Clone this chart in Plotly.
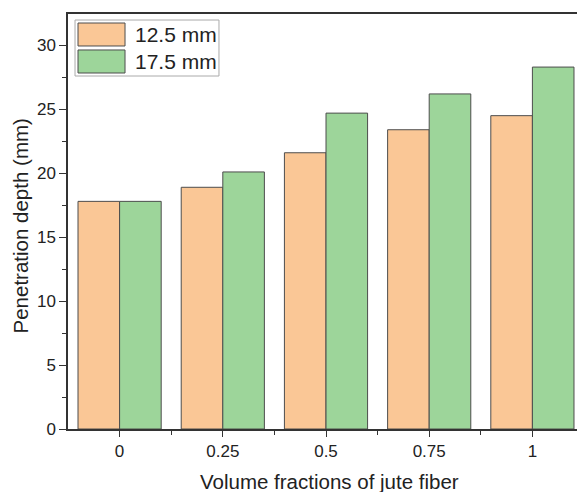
import plotly.graph_objects as go

categories = ["0", "0.25", "0.5", "0.75", "1"]
series_names = ["12.5 mm", "17.5 mm"]
depth_12_5 = [17.8, 18.9, 21.6, 23.4, 24.5]
depth_17_5 = [17.8, 20.1, 24.7, 26.2, 28.3]
x_title = "Volume fractions of jute fiber"
y_title = "Penetration depth (mm)"

colors = ["#FAC796", "#9DD59A"]
outline = "#4d4d4d"
x_pos = list(range(len(categories)))

fig = go.Figure()
for name, vals, col in zip(series_names, [depth_12_5, depth_17_5], colors):
    fig.add_trace(go.Bar(
        x=x_pos, y=vals, name=name,
        marker=dict(color=col, line=dict(color=outline, width=1)),
        showlegend=False,
    ))

font_family = "Liberation Sans, Arial, sans-serif"

# page body has an 8px default margin; size/margins compensate for it
fig.update_layout(
    width=577, height=484,
    margin=dict(l=60, r=1, t=6, b=63, pad=0, autoexpand=False),
    paper_bgcolor="white", plot_bgcolor="white",
    barmode="group", bargap=0.194, bargroupgap=0,
    font=dict(family=font_family, color="#222222"),
)

fig.update_xaxes(
    range=[-0.5, 4.5], automargin=False,
    tickmode="array", tickvals=x_pos, ticktext=categories,
    ticks="outside", ticklen=6, tickwidth=1.3, tickcolor="#333333",
    minor=dict(tickmode="array", tickvals=[0.5, 1.5, 2.5, 3.5],
               ticks="outside", ticklen=4, tickwidth=1.3, tickcolor="#333333"),
    showline=True, linecolor="#333333", linewidth=1.5, mirror=True,
    showgrid=False, zeroline=False,
    tickfont=dict(size=17, family=font_family, color="#222222"),
)

fig.update_yaxes(
    range=[0, 32.45], automargin=False,
    tickmode="linear", tick0=0, dtick=5,
    ticks="outside", ticklen=7, tickwidth=1.3, tickcolor="#333333",
    minor=dict(tickmode="linear", tick0=0, dtick=2.5,
               ticks="outside", ticklen=4, tickwidth=1.3, tickcolor="#333333"),
    showline=True, linecolor="#333333", linewidth=1.5, mirror=True,
    showgrid=False, zeroline=False,
    tickfont=dict(size=17, family=font_family, color="#222222"),
)

# Axis titles as annotations for precise placement
fig.add_annotation(xref="paper", yref="paper", x=0.506, y=-0.1277,
                   text=x_title, showarrow=False, xanchor="center", yanchor="middle",
                   font=dict(size=20.5, family=font_family, color="#222222"))
fig.add_annotation(xref="paper", yref="paper", x=-0.093, y=0.488,
                   text=y_title, showarrow=False, xanchor="center", yanchor="middle",
                   textangle=-90,
                   font=dict(size=20.5, family=font_family, color="#222222"))

# Custom legend with large swatches (Origin style)
fig.add_shape(type="rect", xref="paper", yref="paper",
              x0=0.0136, x1=0.2926, y0=0.8506, y1=0.9855,
              line=dict(color="#aaaaaa", width=1), fillcolor="white")
sw_y = [(0.9229, 0.9783), (0.8578, 0.9133)]
for name, col, (y0, y1) in zip(series_names, colors, sw_y):
    fig.add_shape(type="rect", xref="paper", yref="paper",
                  x0=0.0194, x1=0.1105, y0=y0, y1=y1,
                  line=dict(color=outline, width=1), fillcolor=col)
    fig.add_annotation(xref="paper", yref="paper", x=0.126, y=(y0 + y1) / 2,
                       text=name, showarrow=False, xanchor="left", yanchor="middle",
                       font=dict(size=21, family=font_family, color="#222222"))

fig.write_html("out.html")
